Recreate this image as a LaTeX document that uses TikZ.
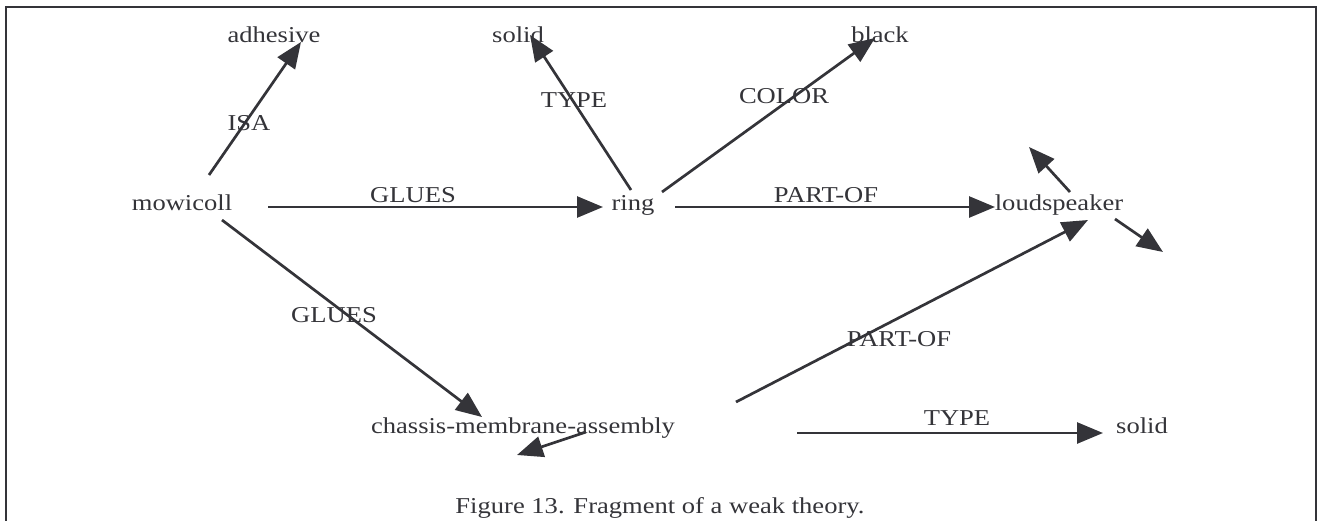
\documentclass[tikz,border=0pt]{standalone}
\usepackage{fontspec}
\setmainfont{Liberation Serif}[FakeStretch=1.17]
\usepackage{tikz}
\usetikzlibrary{arrows.meta,calc}
\definecolor{encre}{RGB}{52,52,57}
\tikzset{
	concept/.style={text=encre,inner sep=0pt,anchor=base},
	rel/.style={text=encre,inner sep=0pt,anchor=base},
	lien/.style={draw=encre,line width=2.7pt,-{Triangle[length=26pt,width=21pt]}},
	cadre/.style={draw=encre,line width=2pt}
}

\begin{document}
\begin{tikzpicture}[x=1pt,y=-1pt,font=\fontsize{22.7pt}{27pt}\selectfont]
				\useasboundingbox (0,0) rectangle (1318,520);
				\draw[cadre](6,560)--(6,7)--(1316,7)--(1316,560);
				\node[concept](adhesive) at (274,42){adhesive};
				\node[concept](soltype) at (518,42){solid};
				\node[concept](black) at (880,42){black};
				\node[concept](mowicoll) at (182,210){mowicoll};
				\node[concept](ring) at (633,210){ring};
				\node[concept](loudspeaker) at (1059,210){loudspeaker};
				\node[concept](cma) at (523,433){chassis-membrane-assembly};
				\node[concept](solbas) at (1142,433){solid};
				\coordinate (libreN) at (1029,147);
				\coordinate (libreS) at (1163,252);
				\coordinate (libreO) at (517,455);
				\draw[lien]($(mowicoll.base)+(27,-35)$)--($(adhesive.base)+(27,0)$);
				\draw[lien]($(mowicoll.base)+(86,-3)$)--($(ring.base)+(-30,-3)$);
				\draw[lien]($(mowicoll.base)+(40,10)$)--($(cma.base)+(-41,-16)$);
				\draw[lien]($(ring.base)+(-2,-20)$)--($(soltype.base)+(12,-7)$);
				\draw[lien]($(ring.base)+(29,-18)$)--($(black.base)+(-5,-4)$);
				\draw[lien]($(ring.base)+(42,-3)$)--($(loudspeaker.base)+(-64,-3)$);
				\draw[lien]($(loudspeaker.base)+(11,-18)$)--(libreN);
				\draw[lien]($(loudspeaker.base)+(56,9)$)--(libreS);
				\draw[lien]($(cma.base)+(213,-31)$)--($(loudspeaker.base)+(29,10)$);
				\draw[lien]($(cma.base)+(274,0)$)--($(solbas.base)+(-39,0)$);
				\draw[lien]($(cma.base)+(63,-1)$)--(libreO);
				\node[rel](isa) at (249,130){ISA};
				\node[rel](glues1) at (413,202){GLUES};
				\node[rel](glues2) at (334,322){GLUES};
				\node[rel](type1) at (574,107){TYPE};
				\node[rel](color) at (784,103){COLOR};
				\node[rel](partof1) at (826,202){PART-OF};
				\node[rel](partof2) at (899,346){PART-OF};
				\node[rel](type2) at (957,425){TYPE};
				\node[concept](legende) at (660,513){Figure 13. Fragment of a weak theory.};
			\end{tikzpicture}
\end{document}
